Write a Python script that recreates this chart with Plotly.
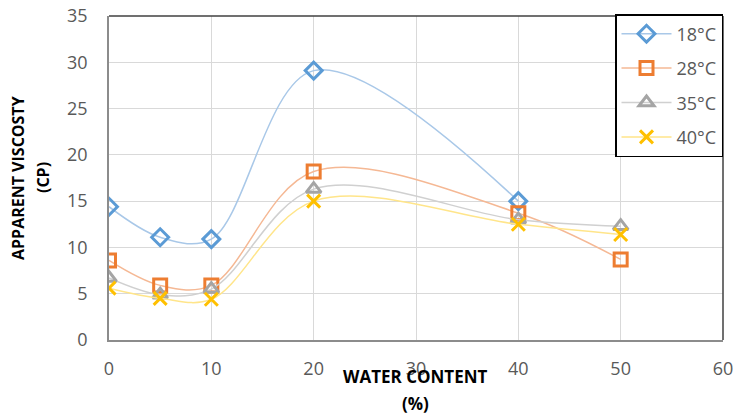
import plotly.graph_objects as go

x_all = [0, 5, 10, 20, 40, 50]
x_18 = [0, 5, 10, 20, 40]
v_18 = [14.4, 11.1, 10.9, 29.1, 15.0]
v_28 = [8.6, 5.9, 5.9, 18.2, 13.7, 8.7]
v_35 = [6.7, 4.9, 5.5, 16.3, 13.0, 12.3]
v_40 = [5.6, 4.5, 4.4, 15.0, 12.5, 11.4]
names = ["18°C", "28°C", "35°C", "40°C"]

fig = go.Figure()
series = [
    (x_18, v_18, "#A9C8E8", "#5B9BD5", "diamond-open"),
    (x_all, v_28, "#F5B894", "#ED7D31", "square-open"),
    (x_all, v_35, "#D0D0D0", "#A5A5A5", "triangle-up-open"),
    (x_all, v_40, "#FFE58A", "#FFC000", "x-thin-open"),
]
for (xs, ys, lc, mc, sym), nm in zip(series, names):
    fig.add_trace(go.Scatter(
        x=xs, y=ys, name=nm, mode="lines+markers",
        line=dict(color=lc, width=1.5, shape="spline", smoothing=1.0),
        marker=dict(symbol=sym, size=13, color=mc, line=dict(color=mc, width=3)),
        legendgroup=nm,
    ))

L, R, T, B = 109, 723, 16, 340
PW, PH = R - L, B - T

fig.update_layout(
    width=735, height=416,
    margin=dict(l=L, r=735 - R, t=T, b=416 - B, autoexpand=False),
    plot_bgcolor="white", paper_bgcolor="white",
    font=dict(family="Open Sans, Liberation Sans, sans-serif", color="#595959", size=16),
    xaxis=dict(range=[0, 60], dtick=10, showgrid=True, gridcolor="#D9D9D9", gridwidth=1,
               zeroline=False, showline=True, linecolor="#8C8C8C", linewidth=1.5,
               ticks="", automargin=False, ticklabeloverflow="allow", ticklabelstandoff=12,
               tickfont=dict(size=18, color="#595959")),
    yaxis=dict(range=[0, 35], dtick=5, showgrid=True, gridcolor="#D9D9D9", gridwidth=1,
               zeroline=False, showline=True, linecolor="#8C8C8C", linewidth=1.5,
               ticks="", automargin=False, ticklabeloverflow="allow", ticklabelstandoff=16,
               tickfont=dict(size=18, color="#595959")),
    legend=dict(x=1.0, y=(B - 14) / PH, xanchor="right", yanchor="top",
                bordercolor="black", borderwidth=1.5, bgcolor="white",
                font=dict(size=18, color="#595959"), tracegroupgap=8, itemwidth=50),
    showlegend=True,
)

# dark frame on the top and right of the plot area
fig.add_shape(type="line", xref="paper", yref="paper", x0=0, x1=1, y0=1, y1=1,
              line=dict(color="#404040", width=1.5))
fig.add_shape(type="line", xref="paper", yref="paper", x0=1, x1=1, y0=0, y1=1,
              line=dict(color="#404040", width=1.5))

fig.add_annotation(text="<b>WATER CONTENT</b>", xref="paper", yref="paper",
                   x=(415 - L) / PW, y=-(376 - B) / PH, xanchor="center", yanchor="middle",
                   showarrow=False, font=dict(size=17, color="black"))
fig.add_annotation(text="<b>(%)</b>", xref="paper", yref="paper",
                   x=(415 - L) / PW, y=-(403 - B) / PH, xanchor="center", yanchor="middle",
                   showarrow=False, font=dict(size=17, color="black"))
fig.add_annotation(text="<b>APPARENT VISCOSTY</b>", xref="paper", yref="paper",
                   x=-(L - 18) / PW, y=(B - 178) / PH, textangle=-90,
                   xanchor="center", yanchor="middle",
                   showarrow=False, font=dict(size=16, color="black"))
fig.add_annotation(text="<b>(CP)</b>", xref="paper", yref="paper",
                   x=-(L - 43) / PW, y=(B - 178) / PH, textangle=-90,
                   xanchor="center", yanchor="middle",
                   showarrow=False, font=dict(size=16, color="black"))

fig.write_html("out.html", config={"displayModeBar": False},
               post_script="document.body.style.margin='0';")
